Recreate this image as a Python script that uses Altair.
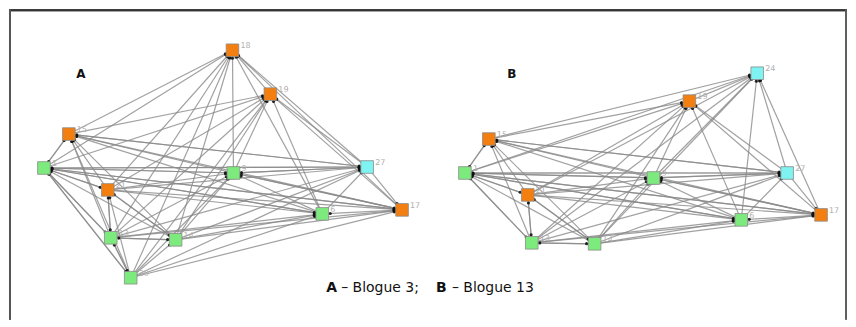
import altair as alt
import pandas as pd
import numpy as np

# ---- Node data (layout positions) ----
a_ids = ["18", "19", "15", "1", "9", "27", "21", "6", "17", "13", "14", "30"]
a_x = [232, 270, 68, 43, 233, 367, 107, 322, 402, 110, 175, 130]
a_y = [49, 93, 133, 167, 172, 166, 189, 213, 209, 237, 239, 277]
a_grp = ["o", "o", "o", "g", "g", "c", "o", "g", "o", "g", "g", "g"]

b_ids = ["24", "19", "15", "1", "9", "27", "21", "6", "17", "13", "14"]
b_x = [758, 690, 489, 465, 654, 788, 528, 742, 822, 532, 595]
b_y = [72, 100, 138, 172, 177, 172, 194, 219, 214, 242, 243]
b_grp = ["c", "o", "o", "g", "g", "c", "o", "g", "o", "g", "g"]

# ---- Edge lists (source -> target) ----
a_edges = [
    ("15", "18"), ("1", "18"), ("9", "18"), ("21", "18"), ("6", "18"), ("13", "18"), ("14", "18"), ("30", "18"),
    ("27", "18"), ("17", "18"), ("19", "18"),
    ("15", "19"), ("1", "19"), ("9", "19"), ("21", "19"), ("6", "19"), ("13", "19"), ("14", "19"), ("30", "19"),
    ("27", "19"), ("17", "19"),
    ("1", "15"), ("21", "15"), ("13", "15"), ("14", "15"), ("30", "15"), ("9", "15"), ("6", "15"), ("27", "15"), ("17", "15"),
    ("15", "1"), ("21", "1"), ("13", "1"), ("14", "1"), ("30", "1"), ("9", "1"), ("6", "1"), ("27", "1"), ("17", "1"),
    ("1", "9"), ("21", "9"), ("13", "9"), ("14", "9"), ("30", "9"), ("6", "9"), ("27", "9"), ("17", "9"),
    ("1", "27"), ("15", "27"), ("21", "27"), ("9", "27"), ("6", "27"), ("13", "27"), ("14", "27"), ("30", "27"),
    ("1", "21"), ("13", "21"), ("30", "21"), ("14", "21"),
    ("1", "6"), ("21", "6"), ("13", "6"), ("14", "6"), ("30", "6"), ("17", "6"),
    ("1", "17"), ("21", "17"), ("13", "17"), ("14", "17"), ("30", "17"), ("27", "17"), ("9", "17"),
    ("21", "13"), ("1", "13"), ("14", "13"), ("30", "13"),
    ("13", "14"), ("21", "14"), ("30", "14"),
    ("13", "30"), ("1", "30"),
]
b_edges = [
    ("19", "24"), ("15", "24"), ("1", "24"), ("9", "24"), ("21", "24"), ("6", "24"), ("13", "24"), ("14", "24"),
    ("27", "24"), ("17", "24"),
    ("15", "19"), ("1", "19"), ("9", "19"), ("21", "19"), ("6", "19"), ("13", "19"), ("14", "19"), ("27", "19"), ("17", "19"),
    ("1", "15"), ("21", "15"), ("13", "15"), ("14", "15"), ("9", "15"), ("6", "15"), ("27", "15"), ("17", "15"),
    ("15", "1"), ("21", "1"), ("13", "1"), ("14", "1"), ("9", "1"), ("6", "1"), ("27", "1"), ("17", "1"),
    ("1", "9"), ("21", "9"), ("13", "9"), ("14", "9"), ("6", "9"), ("27", "9"), ("17", "9"),
    ("1", "27"), ("15", "27"), ("21", "27"), ("9", "27"), ("6", "27"), ("13", "27"), ("14", "27"),
    ("1", "21"), ("13", "21"), ("14", "21"),
    ("1", "6"), ("21", "6"), ("13", "6"), ("14", "6"), ("17", "6"),
    ("1", "17"), ("21", "17"), ("13", "17"), ("14", "17"), ("27", "17"), ("9", "17"),
    ("21", "13"), ("1", "13"), ("14", "13"),
    ("13", "14"), ("21", "14"),
]

# ---- Text ----
panel_letters = ["A", "B"]
panel_letter_x = [80, 512]
panel_letter_y = [73, 73]

caption_text = ["A", "– Blogue 3;", "B", "– Blogue 13"]
caption_x = [326, 341, 436, 452]
caption_bold = [True, False, True, False]
caption_y = 287

colors = {"o": "#F27F10", "g": "#7DEA7D", "c": "#7FF2F2"}

# ---- Build tables ----
def build(panel, ids, xs, ys, grp, edges):
    nd = pd.DataFrame({"panel": panel, "id": ids, "x": xs, "y": ys, "grp": grp})
    pos = {i: (x, y) for i, x, y in zip(ids, xs, ys)}
    rows = []
    for s, t in edges:
        x1, y1 = pos[s]
        x2, y2 = pos[t]
        dx, dy = x1 - x2, y1 - y2
        d = np.hypot(dx, dy)
        rows.append({"panel": panel, "x": x1, "y": y1, "x2": x2, "y2": y2,
                     "ax": x2 + dx / d * 8, "ay": y2 + dy / d * 8})
    return nd, pd.DataFrame(rows)

na, ea = build("A", a_ids, a_x, a_y, a_grp, a_edges)
nb, eb = build("B", b_ids, b_x, b_y, b_grp, b_edges)
nodes = pd.concat([na, nb], ignore_index=True)
edges = pd.concat([ea, eb], ignore_index=True)

xs = alt.Scale(domain=[8, 848], nice=False, zero=False)
ys = alt.Scale(domain=[8, 319], nice=False, zero=False, reverse=True)

edge_layer = alt.Chart(edges).mark_rule(color="#8a8a8a", strokeWidth=1.2, opacity=0.8).encode(
    x=alt.X("x:Q", scale=xs, axis=None),
    y=alt.Y("y:Q", scale=ys, axis=None),
    x2="x2:Q", y2="y2:Q",
)

arrow_layer = alt.Chart(edges).mark_point(filled=True, color="#111111", size=10, opacity=0.9).encode(
    x=alt.X("ax:Q", scale=xs, axis=None),
    y=alt.Y("ay:Q", scale=ys, axis=None),
)

node_layer = alt.Chart(nodes).mark_square(size=160, opacity=1, stroke="#8c8c8c", strokeWidth=0.8).encode(
    x=alt.X("x:Q", scale=xs, axis=None),
    y=alt.Y("y:Q", scale=ys, axis=None),
    fill=alt.Fill("grp:N", scale=alt.Scale(domain=list(colors.keys()), range=list(colors.values())), legend=None),
)

label_layer = alt.Chart(nodes).mark_text(align="left", dx=8, dy=-4, fontSize=8, color="#b0b0b0", font="DejaVu Sans").encode(
    x=alt.X("x:Q", scale=xs, axis=None),
    y=alt.Y("y:Q", scale=ys, axis=None),
    text="id:N",
)

letters = pd.DataFrame({"t": panel_letters, "x": panel_letter_x, "y": panel_letter_y})
letter_layer = alt.Chart(letters).mark_text(fontSize=12, fontWeight="bold", color="#111111", font="DejaVu Sans").encode(
    x=alt.X("x:Q", scale=xs, axis=None),
    y=alt.Y("y:Q", scale=ys, axis=None),
    text="t:N",
)

cap = pd.DataFrame({"t": caption_text, "x": caption_x, "y": caption_y, "b": caption_bold})
cap_bold = alt.Chart(cap).transform_filter("datum.b").mark_text(
    align="left", fontSize=14, fontWeight="bold", color="#111111", font="DejaVu Sans").encode(
    x=alt.X("x:Q", scale=xs, axis=None), y=alt.Y("y:Q", scale=ys, axis=None), text="t:N")
cap_norm = alt.Chart(cap).transform_filter("!datum.b").mark_text(
    align="left", fontSize=14, color="#111111", font="DejaVu Sans").encode(
    x=alt.X("x:Q", scale=xs, axis=None), y=alt.Y("y:Q", scale=ys, axis=None), text="t:N")

border_top = alt.Chart(letters).mark_rule(color="#333333", strokeWidth=2).encode(
    x=alt.value(0), x2=alt.value(840), y=alt.value(1))
border_left = alt.Chart(letters).mark_rule(color="#555555", strokeWidth=2).encode(
    x=alt.value(1), y=alt.value(0), y2=alt.value(311))
border_right = alt.Chart(letters).mark_rule(color="#555555", strokeWidth=1.5).encode(
    x=alt.value(839), y=alt.value(0), y2=alt.value(311))

chart = alt.layer(
    edge_layer, arrow_layer, node_layer, label_layer, letter_layer, cap_bold, cap_norm,
    border_top, border_left, border_right,
).properties(width=840, height=311, padding=0).configure_view(stroke=None)

chart.save("out.html", embed_options={"renderer": "svg", "actions": False})
